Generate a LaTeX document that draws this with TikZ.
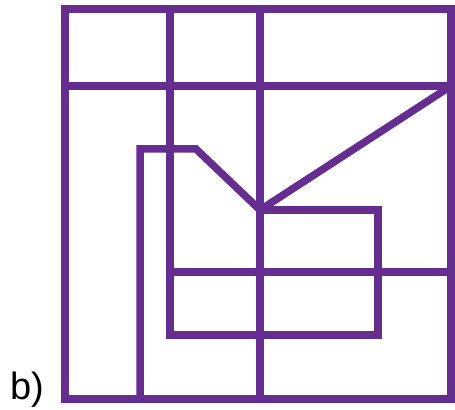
\documentclass[tikz,border=0pt]{standalone}
\usepackage{fontspec}
\setmainfont{Liberation Sans}
\definecolor{plumline}{RGB}{102,45,145}
\begin{document}
\begin{tikzpicture}[x=0.5pt,y=-0.5pt,
 wall/.style={draw=plumline,line width=3.75pt},
 tag/.style={anchor=base west,inner sep=0pt,font=\fontsize{19}{21}\selectfont}]
\useasboundingbox (0,0) rectangle (455,410);
\coordinate (hub) at (260,210);
\coordinate (kink) at (196,149);
\draw[wall] (65,9) rectangle (451,399);
\draw[wall] (65,86) -- (451,86);
\draw[wall] (260,9) -- (260,399);
\draw[wall] (170,9) -- (170,335) -- (378,335) -- (378,210) -- (hub);
\draw[wall] (170,272) -- (451,272);
\draw[wall] (140,399) -- (140,149) -- (kink) -- (hub) -- (451,86);
\node[tag] (lab) at (10,400) {b)};
\end{tikzpicture}
\end{document}
